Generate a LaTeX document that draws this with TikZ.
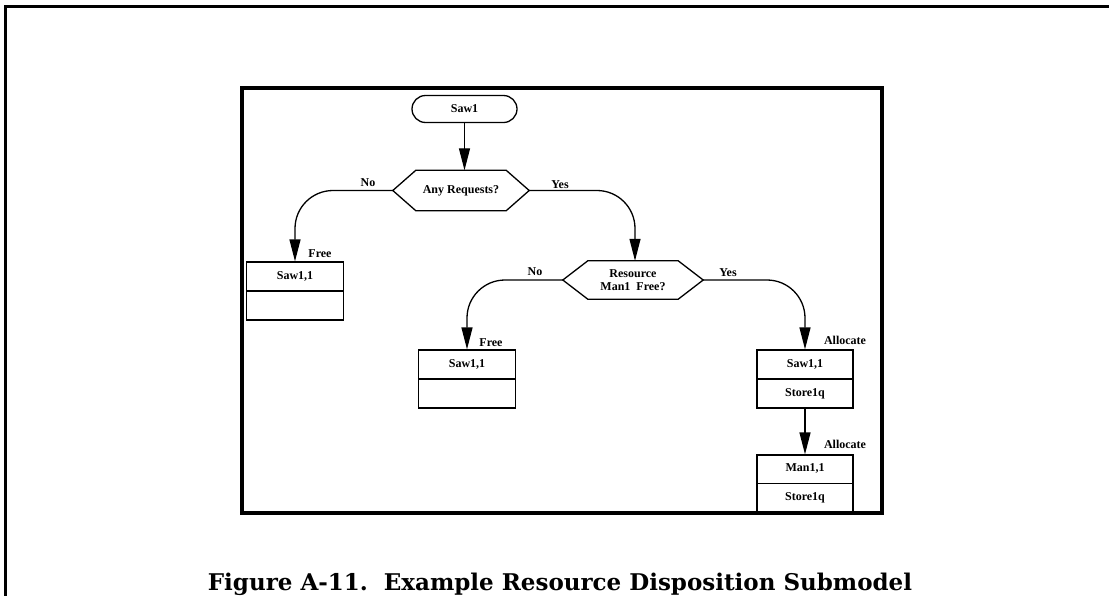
\documentclass[tikz,border=0pt]{standalone}
\usepackage{fontspec}
\setmainfont{Liberation Serif}
\newfontfamily\capfont{DejaVu Serif}
\usetikzlibrary{arrows.meta,calc}
\begin{document}
\begin{tikzpicture}[x=1pt,y=-1pt,
  every node/.style={font=\bfseries\fontsize{12}{13}\selectfont},
  lbl/.style={inner sep=0pt},
  term/.style={draw, line width=1.3pt, rounded corners=13.5pt, minimum width=105pt, minimum height=27pt, inner sep=0pt},
  dec/.style={minimum width=90pt, minimum height=40pt, inner sep=0pt, align=center},
  hexa/.style={line width=1.3pt, line join=miter},
  box/.style={draw, line width=1.3pt, minimum width=97pt, minimum height=58pt, inner sep=0pt},
  divider/.style={line width=1.3pt},
  conn/.style={line width=1.3pt, -{Triangle[length=22pt,width=11pt]}},
  curved/.style={conn, rounded corners=38pt},
]
\useasboundingbox (0,0) rectangle (1109,595);
% frames
\draw[line width=2.2pt] (1115,6.5) -- (5.5,6.5) -- (5.5,600);
\draw[line width=4pt] (242,88) rectangle (882,513);

% start
\node[term] (s) at (464.5,109) {Saw1};

% decision 1
\node[dec] (d1) at (461,190.5) {Any Requests?};
\coordinate (d1L) at ($(d1.west)+(-23,0)$);
\coordinate (d1R) at ($(d1.east)+(23,0)$);
\draw[hexa] (d1.north west) -- (d1.north east) -- (d1R) -- (d1.south east) -- (d1.south west) -- (d1L) -- cycle;

% decision 2
\node[dec, minimum height=38pt] (d2) at (633,280) {Resource\\Man1\ \ Free?};
\coordinate (d2L) at ($(d2.west)+(-25,0)$);
\coordinate (d2R) at ($(d2.east)+(25,0)$);
\draw[hexa] (d2.north west) -- (d2.north east) -- (d2R) -- (d2.south east) -- (d2.south west) -- (d2L) -- cycle;

% boxes
\node[box] (b1) at (295,291) {};
\draw[divider] (b1.west) -- (b1.east);
\node (b1a) at ($(b1.north)!0.5!(b1.center)$) {Saw1,1};

\node[box] (b2) at (467,379) {};
\draw[divider] (b2.west) -- (b2.east);
\node (b2a) at ($(b2.north)!0.5!(b2.center)$) {Saw1,1};

\node[box, minimum width=96pt] (b3) at (805,379) {};
\draw[divider] (b3.west) -- (b3.east);
\node (b3a) at ($(b3.north)!0.5!(b3.center)$) {Saw1,1};
\node (b3b) at ($(b3.south)!0.5!(b3.center)$) {Store1q};

\node[box, minimum width=96pt, minimum height=57pt] (b4) at (805,483.5) {};
\draw[divider] (b4.west) -- (b4.east);
\node (b4a) at ($(b4.north)!0.5!(b4.center)$) {Man1,1};
\node (b4b) at ($(b4.south)!0.5!(b4.center)$) {Store1q};

% connectors
\draw[conn] (s.south) -- (s.south |- d1.north);
\draw[curved] (d1L) -| (b1.north);
\draw[curved] (d1R) -| ([xshift=2pt]d2.north);
\draw[curved] (d2L) -| (b2.north);
\draw[curved] (d2R) -| (b3.north);
\draw[conn] (b3.south) -- (b4.north);

% labels
\node[lbl] (l1) at (368,183) {No};
\node[lbl] (l2) at (560,185) {Yes};
\node[lbl] (l3) at (320,254) {Free};
\node[lbl] (l4) at (535,272) {No};
\node[lbl] (l5) at (728,273) {Yes};
\node[lbl] (l6) at (491,343) {Free};
\node[lbl] (l7) at (845,340) {Allocate};
\node[lbl] (l8) at (845,444) {Allocate};

% caption
\node[font=\capfont\bfseries\fontsize{23}{26}\selectfont, anchor=base, inner sep=0pt] (cap) at (560,590) {Figure A-11.\ \ Example Resource Disposition Submodel};
\end{tikzpicture}
\end{document}
